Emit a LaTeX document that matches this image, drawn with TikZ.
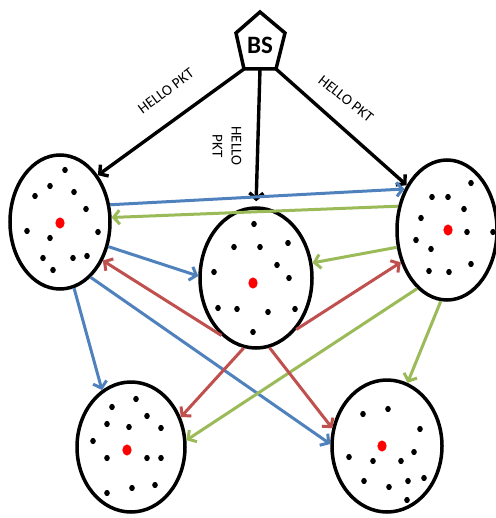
\documentclass[tikz,border=0pt]{standalone}
\usepackage{fontspec}
\setmainfont{Carlito}
\usetikzlibrary{shapes.geometric,arrows.meta}
\definecolor{cblue}{RGB}{79,129,189}
\definecolor{cgreen}{RGB}{155,187,89}
\definecolor{cred}{RGB}{192,80,77}
\begin{document}
\begin{tikzpicture}[x=1pt,y=-1pt,
  cluster/.style={draw,ellipse,line width=3.5pt,inner sep=0pt,fill=white},
  tip/.style={-{Straight Barb[length=6pt,width=14pt]}},
  blk/.style={tip,line width=3.4pt,black},
  blu/.style={tip,line width=3pt,cblue},
  grn/.style={tip,line width=3pt,cgreen},
  rd/.style={tip,line width=3pt,cred},
  lbl/.style={font=\fontsize{15}{19}\selectfont,inner sep=0pt},
  head/.style={red,fill},
  mem/.style={black,fill}]
\useasboundingbox (0,0) rectangle (495,518);

% base station
\draw[line width=3.5pt,line join=miter,fill=white]
  (260,12) coordinate (bsT) -- (285,33) -- (276,69) coordinate (bsR)
  -- (244,69) coordinate (bsL) -- (236,33) -- cycle;
\coordinate (bsM) at (260,69);
\node[font=\fontsize{25}{25}\selectfont\bfseries,inner sep=0pt] (BS) at (260,45) {BS};

% clusters
\node[cluster,minimum width=100pt,minimum height=134pt] (L)  at (60,222)  {};
\node[cluster,minimum width=112pt,minimum height=140pt] (M)  at (256,278) {};
\node[cluster,minimum width=100pt,minimum height=140pt] (R)  at (447,230) {};
\node[cluster,minimum width=108pt,minimum height=130pt] (BL) at (131,447) {};
\node[cluster,minimum width=110pt,minimum height=132pt] (BR) at (387,446) {};

% cluster members
\foreach \p in {(65,170),(50,186),(35,196),(74,192),(86,209),(27,231),(50,238),
  (98,232),(43,258),(73,258),(87,256),(53,270),
  (254,224),(234,247),(260,247),(288,243),(277,265),(214,272),(289,278),
  (218,308),(237,309),(268,312),(295,309),(253,332),
  (471,183),(432,197),(448,197),(464,209),(421,218),(467,232),(493,232),
  (416,240),(431,249),(429,271),(449,272),(471,264),
  (136,399),(112,407),(147,416),(107,424),(129,427),(161,428),(93,441),
  (107,458),(147,458),(161,458),(107,493),(132,488),(155,485),
  (363,414),(388,409),(420,429),(414,452),(349,457),(373,461),(401,461),
  (364,481),(389,487),(408,481),(424,478),(407,500)}
  \fill[mem] \p ellipse [x radius=2.8pt,y radius=3.1pt];

% cluster heads
\foreach \p in {(60,223),(253,283),(448,230),(127,450),(382,446)}
  \fill[head] \p ellipse [x radius=4.6pt,y radius=5.6pt];

% hello packets from the base station
\draw[blk] (bsL) -- (L.51);
\draw[blk,shorten >=5pt] (bsM) -- (M.north);
\draw[blk] (bsR) -- (R.132);
\node[lbl,rotate=36.6] (h1) at (166,91) {HELLO PKT};
\node[lbl,rotate=-90,align=center] (h2) at (227,146) {HELLO\\PKT};
\node[lbl,rotate=-38.4] (h3) at (346,99) {HELLO PKT};

% blue links
\draw[blu] (L.19) -- (R.136);
\draw[blu] (L.-27) -- (M.178);
\draw[blu] (L.-78) -- (BL.117);
\draw[blu] (L.-61) -- (BR.178);

% green links
\draw[grn] (R.154) -- (L.5);
\draw[grn] (R.199) -- (M.15);
\draw[grn] (R.243) -- (BL.7);
\draw[grn] (R.-95) -- (BR.72);

% red links
\draw[rd] (M.-121) -- (L.-42);
\draw[rd] (M.-52) -- (R.215);
\draw[rd] (M.-100) -- (BL.31);
\draw[rd] (M.-79) -- (BR.162);
\end{tikzpicture}
\end{document}
